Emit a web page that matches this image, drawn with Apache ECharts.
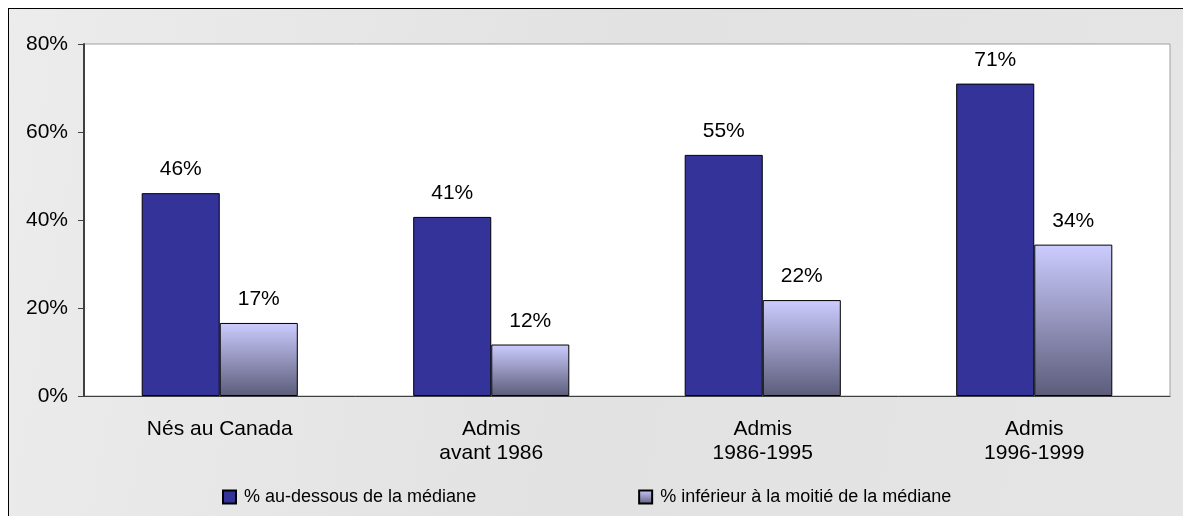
<!DOCTYPE html>
<html>
<head>
<meta charset="utf-8">
<script src="https://cdn.jsdelivr.net/npm/echarts@6/dist/echarts.min.js"></script>
<style>
  html, body { margin: 0; padding: 0; background: #ffffff; }
  #frame { position: absolute; left: 8px; top: 8px; width: 1300px; height: 600px;
           border-left: 1px solid #000; border-top: 1px solid #000;
           background: linear-gradient(100deg, #ececec 0%, #e2e2e2 45%, #e6e6e6 100%); }
  #chart { position: absolute; left: 0; top: 0; width: 1183px; height: 516px; }
</style>
</head>
<body>
<div id="frame"></div>
<div id="chart"></div>
<script>
const categories = ['Nés au Canada', 'Admis\navant 1986', 'Admis\n1986-1995', 'Admis\n1996-1999'];
const seriesNames = ['% au-dessous de la médiane', '% inférieur à la moitié de la médiane'];
const belowMedian = [46.1, 40.7, 54.8, 71.0];
const belowHalfMedian = [16.6, 11.7, 21.8, 34.4];
const yTicks = [0, 20, 40, 60, 80];

const font = "'Liberation Sans', Arial, sans-serif";
const chart = echarts.init(document.getElementById('chart'), null, { renderer: 'canvas' });

chart.setOption({
  backgroundColor: 'transparent',
  animation: false,
  textStyle: { fontFamily: font, color: '#000' },
  grid: {
    left: 84, right: 13, top: 44, bottom: 120,
    show: true, backgroundColor: '#ffffff', borderColor: '#a0a0a0', borderWidth: 1
  },
  legend: {
    top: 488, left: 222, padding: 0,
    itemWidth: 13, itemHeight: 13, itemGap: 162,
    icon: 'rect',
    textStyle: { fontFamily: font, fontSize: 18, color: '#000', padding: [0, 0, 0, 3] },
    data: seriesNames
  },
  xAxis: {
    type: 'category',
    data: categories,
    axisLine: { lineStyle: { color: '#404040', width: 1 } },
    axisTick: { show: false },
    axisLabel: { fontFamily: font, fontSize: 21, color: '#000', margin: 21, lineHeight: 24 }
  },
  yAxis: {
    type: 'value',
    min: yTicks[0], max: yTicks[yTicks.length - 1], interval: 20,
    splitLine: { show: false },
    axisLine: { show: true, lineStyle: { color: '#404040', width: 2 } },
    axisTick: { show: true, length: 6, lineStyle: { color: '#404040' } },
    axisLabel: { fontFamily: font, fontSize: 21, color: '#000', margin: 16, formatter: '{value}%' }
  },
  series: [
    {
      name: seriesNames[0],
      type: 'bar',
      data: belowMedian,
      barGap: '0%',
      barCategoryGap: '42.5%',
      itemStyle: { color: '#333399', borderColor: '#000', borderWidth: 1 },
      label: { show: true, position: 'top', distance: 13, fontFamily: font, fontSize: 21, color: '#000',
               formatter: p => Math.round(p.value) + '%' }
    },
    {
      name: seriesNames[1],
      type: 'bar',
      data: belowHalfMedian,
      barGap: '0%',
      barCategoryGap: '42.5%',
      itemStyle: {
        color: new echarts.graphic.LinearGradient(0, 0, 0, 1, [
          { offset: 0, color: '#ccccff' },
          { offset: 1, color: '#5c5c7a' }
        ]),
        borderColor: '#000', borderWidth: 1
      },
      label: { show: true, position: 'top', distance: 13, fontFamily: font, fontSize: 21, color: '#000',
               formatter: p => Math.round(p.value) + '%' }
    }
  ]
});
</script>
</body>
</html>
